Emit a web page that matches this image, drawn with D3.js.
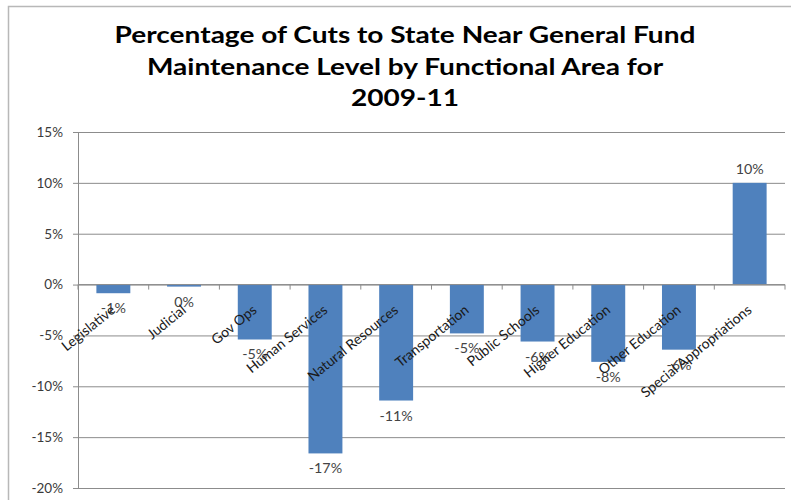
<!DOCTYPE html>
<html>
<head>
<meta charset="utf-8">
<script src="https://cdn.jsdelivr.net/npm/d3@7"></script>
<style>
  body { margin: 0; background: #fff; }
  text { font-family: Lato, "Open Sans", sans-serif; }
</style>
</head>
<body>
<svg id="chart" width="791" height="500"></svg>
<script>
// Functional areas and their percentage change vs. near general fund maintenance level
const categories = [
  "Legislative", "Judicial", "Gov Ops", "Human Services", "Natural Resources",
  "Transportation", "Public Schools", "Higher Education", "Other Education",
  "Special Appropriations"
];
const cutPercent = [-0.85, -0.2, -5.4, -16.6, -11.4, -4.8, -5.6, -7.6, -6.4, 10.0];
const yTicks = [15, 10, 5, 0, -5, -10, -15, -20];
const titleLines = [
  "Percentage of Cuts to State Near General Fund",
  "Maintenance Level by Functional Area for",
  "2009-11"
];

const svg = d3.select("#chart");
const W = 791, H = 500;
const plot = { left: 78, right: 785, top: 132, bottom: 488 };
const gridColor = "#8c8c8c";

// chart frame
svg.append("rect")
  .attr("x", 8.5).attr("y", 6.5)
  .attr("width", W + 20).attr("height", H + 20)
  .attr("fill", "#fff").attr("stroke", "#b8b8b8").attr("stroke-width", 1.5);

// title, slightly widened
svg.append("g").selectAll("text")
  .data(titleLines)
  .join("text")
  .attr("transform", (d, i) => `translate(405,${43 + i * 31.5}) scale(1.22,1)`)
  .attr("text-anchor", "middle")
  .attr("font-size", 23)
  .attr("font-weight", "bold")
  .attr("fill", "#000")
  .text(d => d);

const x = d3.scaleBand()
  .domain(categories)
  .range([plot.left, plot.right])
  .paddingInner(0.52)
  .paddingOuter(0.26);

const y = d3.scaleLinear()
  .domain([-20, 15])
  .range([plot.bottom, plot.top]);

// horizontal gridlines + y ticks
const yAxis = d3.axisLeft(y)
  .tickValues(yTicks)
  .tickSize(-(plot.right - plot.left))
  .tickSizeOuter(0)
  .tickPadding(15)
  .tickFormat(d => d + "%");

const gy = svg.append("g")
  .attr("transform", `translate(${plot.left},0)`)
  .call(yAxis);
gy.select(".domain").remove();
gy.selectAll(".tick line")
  .attr("x1", -5)
  .attr("stroke", gridColor);
gy.selectAll(".tick text")
  .attr("font-size", 13.5)
  .attr("fill", "#3a3a3a")
  .attr("font-family", "Lato, sans-serif");

// vertical axis line
svg.append("line")
  .attr("x1", plot.left + 0.5).attr("x2", plot.left + 0.5)
  .attr("y1", plot.top).attr("y2", plot.bottom)
  .attr("stroke", gridColor);

// bars
svg.append("g").selectAll("rect")
  .data(categories)
  .join("rect")
  .attr("x", d => x(d))
  .attr("width", x.bandwidth())
  .attr("y", (d, i) => y(Math.max(0, cutPercent[i])))
  .attr("height", (d, i) => Math.abs(y(cutPercent[i]) - y(0)))
  .attr("fill", "#4F81BD");

// category tick marks along the zero line
const step = x.step();
const boundaries = d3.range(categories.length + 1).map(i => plot.left + i * step);
svg.append("g").selectAll("line")
  .data(boundaries)
  .join("line")
  .attr("x1", d => d).attr("x2", d => d)
  .attr("y1", y(0)).attr("y2", y(0) + 5)
  .attr("stroke", gridColor);

// zero line drawn over bars
svg.append("line")
  .attr("x1", plot.left).attr("x2", plot.right)
  .attr("y1", y(0)).attr("y2", y(0))
  .attr("stroke", gridColor);

// value labels
svg.append("g").selectAll("text")
  .data(categories)
  .join("text")
  .attr("transform", (d, i) => {
    const cx = x(d) + x.bandwidth() / 2;
    const cy = cutPercent[i] < 0 ? y(cutPercent[i]) + 20 : y(cutPercent[i]) - 9;
    return `translate(${cx},${cy}) scale(1.1,1)`;
  })
  .attr("text-anchor", "middle")
  .attr("font-size", 13)
  .attr("fill", "#444")
  .text((d, i) => String(Math.round(cutPercent[i])) + "%");

// rotated category labels
svg.append("g").selectAll("text")
  .data(categories)
  .join("text")
  .attr("transform", d => `translate(${x(d) + x.bandwidth() / 2 + 3},${y(0) + 27}) rotate(-39)`)
  .attr("text-anchor", "end")
  .attr("font-size", 14)
  .attr("fill", "#1a1a1a")
  .text(d => d);
</script>
</body>
</html>
